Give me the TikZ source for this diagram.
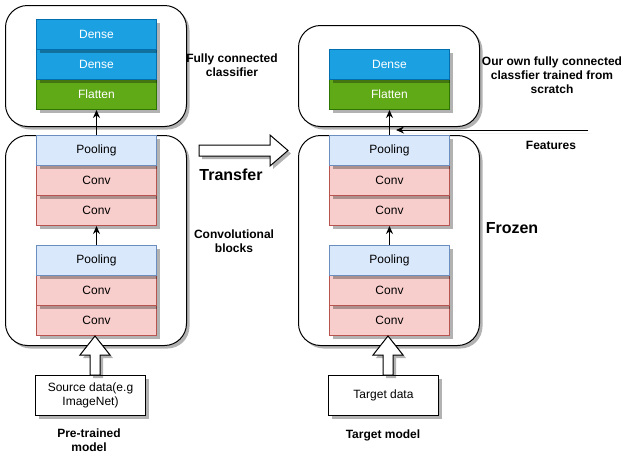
\documentclass[tikz,border=0pt]{standalone}
\usepackage{fontspec}
\setmainfont{Liberation Sans}
\usetikzlibrary{shadows,arrows.meta,calc}
\definecolor{denseF}{HTML}{1BA1E2}\definecolor{denseD}{HTML}{006EAF}
\definecolor{flatF}{HTML}{60A917}\definecolor{flatD}{HTML}{2D7600}
\definecolor{poolF}{HTML}{DAE8FC}\definecolor{poolD}{HTML}{6C8EBF}
\definecolor{convF}{HTML}{F8CECC}\definecolor{convD}{HTML}{B85450}
\begin{document}
\begin{tikzpicture}[x=1pt,y=-1pt,line width=1pt,
  shad/.style={drop shadow={shadow xshift=3pt,shadow yshift=-3pt,fill=black,opacity=0.3}},
  txt/.style={font=\fontsize{12}{14}\selectfont,align=center},
  lbl/.style={font=\fontsize{12}{14}\selectfont\bfseries,align=center},
  big/.style={font=\fontsize{16}{18}\selectfont\bfseries},
  cont/.style={draw,fill=white,rounded corners=22,anchor=north west,minimum width=181,inner sep=0,shad},
  layer/.style={txt,draw,anchor=north west,minimum width=120,minimum height=30,inner sep=0,shad},
  dense/.style={layer,fill=denseF,draw=denseD,text=white},
  flat/.style={layer,fill=flatF,draw=flatD,text=white},
  pool/.style={layer,fill=poolF,draw=poolD},
  conv/.style={layer,fill=convF,draw=convD},
  databox/.style={txt,draw,fill=white,anchor=north west,minimum width=110,minimum height=40,inner sep=0,shad},
  conn/.style={draw,-{Stealth[length=8,width=7]}},
  blk/.style={draw,fill=white,line join=miter,shad}]
\useasboundingbox (0,0) rectangle (638,461);
% containers
\node[cont,minimum height=121] (ltop) at (5,5) {};
\node[cont,minimum height=210] (lbot) at (5,135) {};
\node[cont,minimum height=101] (rtop) at (298,25) {};
\node[cont,minimum height=210] (rbot) at (298,135) {};
% left layers (bottom to top)
\node[conv] (lc4) at (36,305) {Conv};
\node[conv] (lc3) at (36,275) {Conv};
\node[pool] (lp2) at (36,245) {Pooling};
\node[conv] (lc2) at (36,195) {Conv};
\node[conv] (lc1) at (36,165) {Conv};
\node[pool] (lp1) at (36,135) {Pooling};
\node[flat] (lfl) at (36,79) {Flatten};
\node[dense] (ld2) at (36,49) {Dense};
\node[dense] (ld1) at (36,19) {Dense};
% right layers
\node[conv] (rc4) at (329,305) {Conv};
\node[conv] (rc3) at (329,275) {Conv};
\node[pool] (rp2) at (329,245) {Pooling};
\node[conv] (rc2) at (329,195) {Conv};
\node[conv] (rc1) at (329,165) {Conv};
\node[pool] (rp1) at (329,135) {Pooling};
\node[flat] (rfl) at (329,79) {Flatten};
\node[dense] (rd1) at (329,49) {Dense};
% connectors
\draw[conn] (lp1.north) -- (lfl.south);
\draw[conn] (lp2.north) -- (lc2.south);
\draw[conn] (rp1.north) -- (rfl.south);
\draw[conn] (rp2.north) -- (rc2.south);
\coordinate (fs) at (588,130);
\coordinate (fe) at (396,130);
\draw[conn,shad] (fs) -- (fe);
% data boxes
\node[databox] (src) at (35,375) {Source data(e.g\\ImageNet)};
\node[databox] (tgt) at (328,375) {Target data};
% block arrows
\draw[blk] (90,375) -- (90,355) -- (80,355) -- (95,336) -- (110,355) -- (100,355) -- (100,375) -- cycle;
\draw[blk] (383,375) -- (383,355) -- (373,355) -- (388,336) -- (403,355) -- (393,355) -- (393,375) -- cycle;
\draw[blk] (199,145) -- (270,145) -- (270,135) -- (288,150.5) -- (270,166) -- (270,156) -- (199,156) -- cycle;
% labels
\node[lbl] (l1) at (232,65) {Fully connected\\classifier};
\node[big] (l2) at (231,175) {Transfer};
\node[lbl] (l3) at (234,241) {Convolutional\\blocks};
\node[lbl] (l4) at (89,440) {Pre-trained\\model};
\node[lbl] (l5) at (552,75) {Our own fully connected\\classfier trained from\\scratch};
\node[lbl] (l6) at (551,145) {Features};
\node[big] (l7) at (512,228) {Frozen};
\node[lbl] (l8) at (383,435) {Target model};
\end{tikzpicture}
\end{document}
